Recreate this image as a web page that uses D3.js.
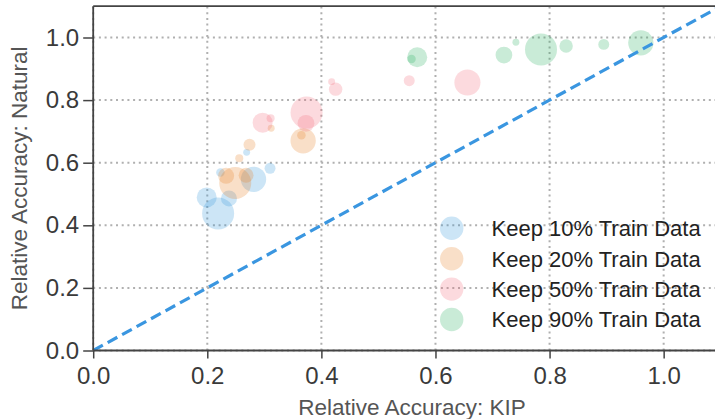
<!DOCTYPE html>
<html><head><meta charset="utf-8">
<script src="https://cdn.jsdelivr.net/npm/d3@7"></script>
<style>
html,body{margin:0;padding:0;background:#fff;}
svg{display:block;font-family:"Liberation Sans",Arial,Helvetica,sans-serif;}
</style></head>
<body>
<svg id="chart" width="715" height="419"></svg>
<script>
const seriesNames = ["Keep 10% Train Data","Keep 20% Train Data","Keep 50% Train Data","Keep 90% Train Data"];
const tickValues = [0.0,0.2,0.4,0.6,0.8,1.0];
const xLabel = "Relative Accuracy: KIP";
const yLabel = "Relative Accuracy: Natural";

const kip10 = [0.219,0.199,0.238,0.281,0.310,0.269,0.223];
const nat10 = [0.438,0.489,0.486,0.547,0.582,0.633,0.569];
const size10 = [256,100,64,160,30,12,18];

const kip20 = [0.249,0.233,0.268,0.274,0.256,0.368,0.365,0.312];
const nat20 = [0.535,0.558,0.560,0.657,0.614,0.670,0.688,0.710];
const size20 = [256,64,55,36,16,160,18,12];

const kip50 = [0.297,0.311,0.374,0.373,0.418,0.425,0.554,0.656];
const nat50 = [0.728,0.742,0.760,0.726,0.859,0.835,0.862,0.856];
const size50 = [100,16,256,70,12,45,30,170];

const kip90 = [0.568,0.558,0.720,0.741,0.785,0.829,0.895,0.960];
const nat90 = [0.937,0.931,0.944,0.985,0.962,0.973,0.978,0.983];
const size90 = [100,18,70,12,256,45,30,160];

const colors = ["#3498db","#e67e22","#f26d7d","#27ae60"];

const W = 715, H = 419;
const x = d3.scaleLinear().domain([0,1.1]).range([93.2, 720.7]);
const y = d3.scaleLinear().domain([0,1.1]).range([350.5, 6.2]);
const r = d3.scaleSqrt().domain([0,256]).range([0,16]);

const svg = d3.select("#chart");
svg.append("defs").append("clipPath").attr("id","clip")
  .append("rect").attr("x",x(0)).attr("y",y(1.1)).attr("width",x(1.1)-x(0)).attr("height",y(0)-y(1.1));

// grid
const grid = svg.append("g");
tickValues.forEach(v=>{
  grid.append("line").attr("x1",x(v)).attr("x2",x(v)).attr("y1",y(0)).attr("y2",y(1.1))
    .attr("stroke","#b0b0b0").attr("stroke-width",2).attr("stroke-dasharray","2,3.7");
  grid.append("line").attr("y1",y(v)).attr("y2",y(v)).attr("x1",x(0)).attr("x2",W)
    .attr("stroke","#b0b0b0").attr("stroke-width",2).attr("stroke-dasharray","2,3.7");
});

const plot = svg.append("g").attr("clip-path","url(#clip)");
const all = [[kip10,nat10,size10],[kip20,nat20,size20],[kip50,nat50,size50],[kip90,nat90,size90]];
all.forEach((s,i)=>{
  const pts = s[0].map((v,j)=>({x:v,y:s[1][j],s:s[2][j]}));
  plot.append("g").selectAll("circle").data(pts).join("circle")
    .attr("cx",d=>x(d.x)).attr("cy",d=>y(d.y)).attr("r",d=>r(d.s))
    .attr("fill",colors[i]).attr("fill-opacity",0.25);
});

// diagonal
plot.append("line").attr("x1",x(0)).attr("y1",y(0)).attr("x2",x(1.1)).attr("y2",y(1.1))
  .attr("stroke","#3a96e0").attr("stroke-width",3.2).attr("stroke-dasharray","11,5.5");

// axes
const xAxis = d3.axisBottom(x).tickValues(tickValues).tickFormat(d3.format(".1f")).tickSize(8).tickPadding(8);
const yAxis = d3.axisLeft(y).tickValues(tickValues).tickFormat(d3.format(".1f")).tickSize(10).tickPadding(4);
const gx = svg.append("g").attr("transform",`translate(0,${y(0)})`).call(xAxis);
const gy = svg.append("g").attr("transform",`translate(${x(0)},0)`).call(yAxis);
[gx,gy].forEach(g=>{
  g.select(".domain").remove();
  g.selectAll(".tick line").attr("stroke","#444").attr("stroke-width",1.5);
  g.selectAll(".tick text").attr("fill","#3a3a3a").attr("font-size",24);
});
// spines
svg.append("line").attr("x1",x(0)).attr("x2",W).attr("y1",y(0)).attr("y2",y(0)).attr("stroke","#444").attr("stroke-width",1.8);
svg.append("line").attr("x1",x(0)).attr("x2",W).attr("y1",y(1.1)).attr("y2",y(1.1)).attr("stroke","#444").attr("stroke-width",1.8);
svg.append("line").attr("x1",x(0)).attr("x2",x(0)).attr("y1",y(0)).attr("y2",y(1.1)).attr("stroke","#444").attr("stroke-width",1.8);

svg.append("text").attr("x",412).attr("y",415).attr("text-anchor","middle")
  .attr("font-size",22.5).attr("fill","#555").text(xLabel);
svg.append("text").attr("transform",`translate(27,${(y(0)+y(1.1))/2}) rotate(-90)`).attr("text-anchor","middle")
  .attr("font-size",22.5).attr("fill","#555").text(yLabel);

// legend
const lg = svg.append("g");
seriesNames.forEach((n,i)=>{
  const cy = 228.3 + i*30.4;
  lg.append("circle").attr("cx",451.7).attr("cy",cy).attr("r",11.7).attr("fill",colors[i]).attr("fill-opacity",0.25);
  lg.append("text").attr("x",491.5).attr("y",cy).attr("dy","0.36em").attr("font-size",22).attr("fill","#222").text(n);
});
</script>
</body></html>
